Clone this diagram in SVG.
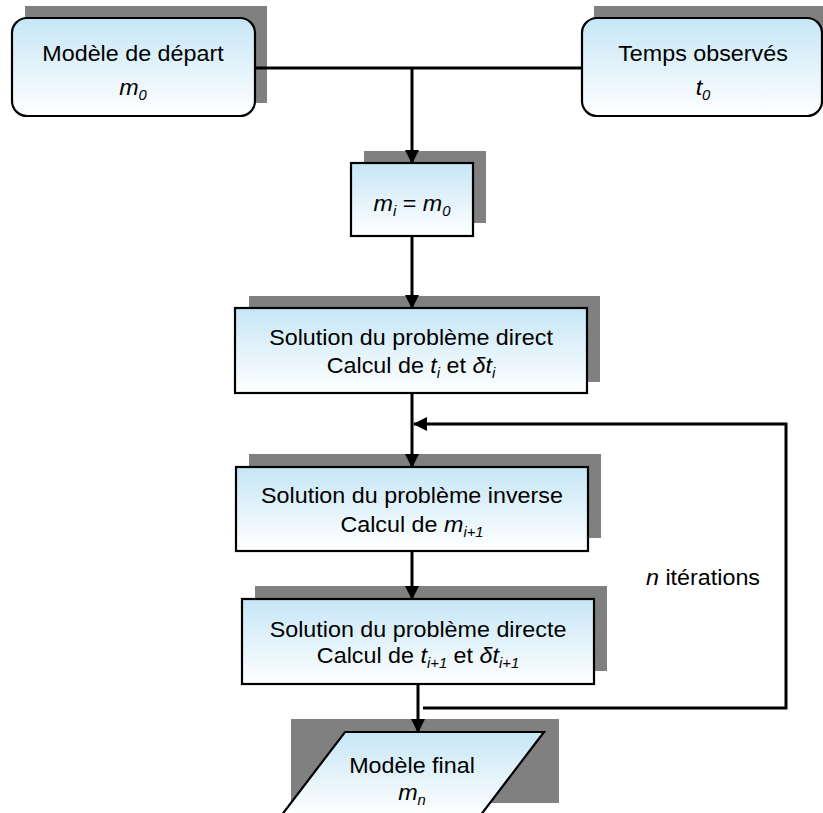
<svg xmlns="http://www.w3.org/2000/svg" width="823" height="813" viewBox="0 0 823 813">
<defs>
<linearGradient id="g" x1="0" y1="0" x2="0" y2="1">
<stop offset="0" stop-color="#c6e6f6"/>
<stop offset="1" stop-color="#ffffff"/>
</linearGradient>
<marker id="ah" markerUnits="userSpaceOnUse" markerWidth="14" markerHeight="14" viewBox="0 0 14 14" refX="13" refY="7" orient="auto">
<path d="M0,0 L14,7 L0,14 z" fill="#000"/>
</marker>
</defs>
<style>
.sh{fill:#808080}
.bx{fill:url(#g);stroke:#000;stroke-width:2.2}
.t{font-family:"Liberation Sans",Arial,sans-serif;font-size:22px;fill:#000}
.i{font-style:italic}
.s{font-style:italic;font-size:14px}
.c{fill:none;stroke:#000;stroke-width:3}
</style>
<rect width="823" height="813" fill="#fff"/>

<g id="node-depart">
<rect class="sh" x="25" y="6" width="242" height="97"/>
<rect class="bx" x="12" y="18" width="243" height="98" rx="15" ry="15"/>
<text class="t" text-anchor="middle" transform="translate(133,61) scale(1.06,1)">Modèle de départ</text>
<text class="t" text-anchor="middle" transform="translate(133,95) scale(1.06,1)"><tspan class="i">m</tspan><tspan class="s" dy="5">0</tspan></text>
</g>

<g id="node-temps">
<rect class="sh" x="594" y="6" width="240" height="97"/>
<rect class="bx" x="582" y="18" width="240" height="98" rx="15" ry="15"/>
<text class="t" text-anchor="middle" transform="translate(703,61) scale(1.06,1)">Temps observés</text>
<text class="t" text-anchor="middle" transform="translate(703,95) scale(1.06,1)"><tspan class="i">t</tspan><tspan class="s" dy="5">0</tspan></text>
</g>

<g id="node-init">
<rect class="sh" x="364" y="151" width="122" height="72"/>
<rect class="bx" x="351" y="163" width="122" height="73"/>
<text class="t" text-anchor="middle" transform="translate(412,211) scale(1.06,1)"><tspan class="i">m</tspan><tspan class="s" dy="5">i</tspan><tspan dy="-5"> = </tspan><tspan class="i">m</tspan><tspan class="s" dy="5">0</tspan></text>
</g>

<g id="node-direct">
<rect class="sh" x="249" y="296" width="351" height="86"/>
<rect class="bx" x="235" y="308" width="352" height="85"/>
<text class="t" text-anchor="middle" transform="translate(411,345) scale(1.06,1)">Solution du problème direct</text>
<text class="t" text-anchor="middle" transform="translate(411,373) scale(1.06,1)">Calcul de <tspan class="i">t</tspan><tspan class="s" dy="5">i</tspan><tspan dy="-5"> et </tspan><tspan class="i">δt</tspan><tspan class="s" dy="5">i</tspan></text>
</g>

<g id="node-inverse">
<rect class="sh" x="249" y="454" width="352" height="84"/>
<rect class="bx" x="236" y="467" width="352" height="84"/>
<text class="t" text-anchor="middle" transform="translate(412,503) scale(1.06,1)">Solution du problème inverse</text>
<text class="t" text-anchor="middle" transform="translate(412,532) scale(1.06,1)">Calcul de <tspan class="i">m</tspan><tspan class="s" dy="5">i+1</tspan></text>
</g>

<g id="node-directe">
<rect class="sh" x="255" y="586" width="352" height="85"/>
<rect class="bx" x="242" y="599" width="352" height="85"/>
<text class="t" text-anchor="middle" transform="translate(418,637) scale(1.06,1)">Solution du problème directe</text>
<text class="t" text-anchor="middle" transform="translate(418,663) scale(1.06,1)">Calcul de <tspan class="i">t</tspan><tspan class="s" dy="5">i+1</tspan><tspan dy="-5"> et </tspan><tspan class="i">δt</tspan><tspan class="s" dy="5">i+1</tspan></text>
</g>

<g id="node-final">
<rect class="sh" x="291" y="719" width="268" height="84"/>
<polygon class="bx" points="345,732 544,732 480,816 281,816"/>
<text class="t" text-anchor="middle" transform="translate(412,773) scale(1.06,1)">Modèle final</text>
<text class="t" text-anchor="middle" transform="translate(412,800) scale(1.06,1)"><tspan class="i">m</tspan><tspan class="s" dy="5">n</tspan></text>
</g>

<g id="label-iter">
<text class="t" transform="translate(646,585) scale(1.06,1)"><tspan class="i">n</tspan> itérations</text>
</g>

<g id="connectors">
<path class="c" d="M255,68 H582"/>
<path class="c" d="M412,68 V163" marker-end="url(#ah)"/>
<path class="c" d="M412,236 V308" marker-end="url(#ah)"/>
<path class="c" d="M412,393 V467" marker-end="url(#ah)"/>
<path class="c" d="M412,551 V599" marker-end="url(#ah)"/>
<path class="c" d="M418,684 V732" marker-end="url(#ah)"/>
<path class="c" d="M423,708 H786 V424 H414" marker-end="url(#ah)"/>
</g>
</svg>
